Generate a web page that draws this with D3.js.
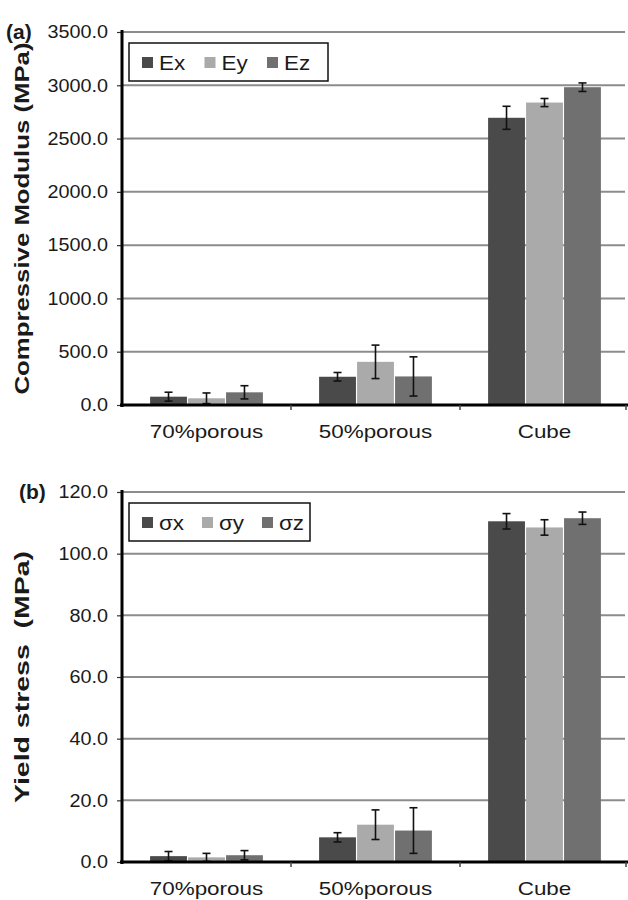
<!DOCTYPE html>
<html>
<head>
<meta charset="utf-8">
<script src="https://cdn.jsdelivr.net/npm/d3@7"></script>
<style>
  body { margin: 0; background: #fff; }
  text { font-family: "Liberation Sans", Arial, sans-serif; fill: #1a1a1a; }
</style>
</head>
<body>
<script>
const categories = ["70%porous", "50%porous", "Cube"];

// (a) compressive modulus, MPa
const modSeries = ["Ex", "Ey", "Ez"];
const exValues = [78, 265, 2695];
const exErr = [42, 40, 108];
const eyValues = [63, 405, 2838];
const eyErr = [50, 157, 38];
const ezValues = [119, 268, 2982];
const ezErr = [62, 184, 40];
const modTicks = [0, 500, 1000, 1500, 2000, 2500, 3000, 3500];

// (b) yield stress, MPa
const sigSeries = ["σx", "σy", "σz"];
const sxValues = [1.9, 8.0, 110.5];
const sxErr = [1.5, 1.5, 2.5];
const syValues = [1.5, 12.1, 108.5];
const syErr = [1.3, 4.8, 2.5];
const szValues = [2.2, 10.2, 111.5];
const szErr = [1.5, 7.4, 2.0];
const sigTicks = [0, 20, 40, 60, 80, 100, 120];

const colors = ["#4a4a4a", "#aaaaaa", "#707070"];

const svg = d3.select("body").append("svg")
  .attr("width", 628)
  .attr("height", 900);

// stretch text a little wider, the source figure is scaled non-uniformly
const stretch = (sel, k) => sel.each(function () {
  const w = this.getComputedTextLength();
  d3.select(this).attr("textLength", w * k).attr("lengthAdjust", "spacingAndGlyphs");
});

function drawPanel(opt) {
  const left = 122, right = 628;
  const g = svg.append("g");

  const y = d3.scaleLinear().domain([0, opt.max]).range([opt.bottom, opt.top]);
  const x0 = d3.scaleBand().domain(categories).range([left, right + 1]);
  const x1 = d3.scaleBand().domain(opt.series).range([0, x0.bandwidth()])
    .paddingOuter(0.74).paddingInner(0.03);

  // grid
  g.append("g").selectAll("line")
    .data(opt.ticks.filter(d => d > 0))
    .join("line")
      .attr("x1", left).attr("x2", right - 3)
      .attr("y1", d => y(d)).attr("y2", d => y(d))
      .attr("stroke", "#8c8c8c").attr("stroke-width", 2);

  // y axis
  const yAxis = g.append("g")
    .attr("transform", `translate(${left},0)`)
    .call(d3.axisLeft(y).tickValues(opt.ticks).tickFormat(d3.format(".1f")).tickSize(5).tickPadding(9));
  yAxis.select(".domain").remove();
  yAxis.selectAll(".tick line").attr("stroke", "#333").attr("stroke-width", 1.2);
  yAxis.selectAll("text").attr("font-size", 18).attr("fill", "#1a1a1a")
    .attr("font-family", '"Liberation Sans", Arial, sans-serif');
  stretch(yAxis.selectAll("text"), 1.1);

  // bars
  const groups = g.append("g").selectAll("g")
    .data(categories)
    .join("g")
      .attr("transform", d => `translate(${x0(d)},0)`);

  groups.selectAll("rect")
    .data((c, i) => opt.series.map((s, j) => ({ s, j, v: opt.values[j][i], e: opt.errs[j][i] })))
    .join("rect")
      .attr("x", d => x1(d.s))
      .attr("width", x1.bandwidth())
      .attr("y", d => y(d.v))
      .attr("height", d => opt.bottom - y(d.v))
      .attr("fill", d => colors[d.j]);

  // error bars
  const eb = groups.selectAll("g.err")
    .data((c, i) => opt.series.map((s, j) => ({ s, j, v: opt.values[j][i], e: opt.errs[j][i] })))
    .join("g")
      .attr("class", "err")
      .attr("transform", d => `translate(${x1(d.s) + x1.bandwidth() / 2},0)`)
      .attr("stroke", "#111").attr("stroke-width", 1.6);
  eb.append("line").attr("y1", d => y(d.v + d.e)).attr("y2", d => y(Math.max(0, d.v - d.e)));
  eb.append("line").attr("x1", -4).attr("x2", 4).attr("y1", d => y(d.v + d.e)).attr("y2", d => y(d.v + d.e));
  eb.append("line").attr("x1", -4).attr("x2", 4)
    .attr("y1", d => y(Math.max(0, d.v - d.e))).attr("y2", d => y(Math.max(0, d.v - d.e)));

  // axes lines
  g.append("line")
    .attr("x1", left).attr("x2", left)
    .attr("y1", opt.top - 2).attr("y2", opt.bottom + 2)
    .attr("stroke", "#000").attr("stroke-width", 3);
  g.append("line")
    .attr("x1", left - 2).attr("x2", right)
    .attr("y1", opt.bottom).attr("y2", opt.bottom)
    .attr("stroke", "#000").attr("stroke-width", 3);

  // category ticks and labels
  g.append("g").selectAll("line")
    .data(categories.slice(1).concat(["end"]))
    .join("line")
      .attr("x1", d => d === "end" ? right - 2 : x0(d))
      .attr("x2", d => d === "end" ? right - 2 : x0(d))
      .attr("y1", opt.bottom).attr("y2", opt.bottom + 5)
      .attr("stroke", "#444").attr("stroke-width", 1.5);

  const cat = g.append("g").selectAll("text")
    .data(categories)
    .join("text")
      .attr("x", d => x0(d) + x0.bandwidth() / 2)
      .attr("y", opt.bottom + 33)
      .attr("text-anchor", "middle")
      .attr("font-size", 19)
      .text(d => d);
  stretch(cat, 1.18);

  // panel letter
  g.append("text")
    .attr("x", opt.letterX).attr("y", opt.top + 7)
    .attr("font-size", 21).attr("font-weight", "bold")
    .text(opt.letter);

  // y title
  g.append("text")
    .attr("transform", `translate(29,${(opt.top + opt.bottom) / 2}) rotate(-90)`)
    .attr("text-anchor", "middle")
    .attr("font-size", 21).attr("font-weight", "bold")
    .attr("textLength", opt.titleLen).attr("lengthAdjust", "spacingAndGlyphs")
    .style("white-space", "pre")
    .text(opt.title);

  // legend
  const lg = g.append("g").attr("transform", `translate(129,${opt.top + 11})`);
  lg.append("rect")
    .attr("width", opt.legendW).attr("height", 38)
    .attr("fill", "#fff").attr("stroke", "#111").attr("stroke-width", 1.5);
  const item = lg.selectAll("g")
    .data(opt.series)
    .join("g")
      .attr("transform", (d, i) => `translate(${13 + i * opt.legendStep},0)`);
  item.append("rect")
    .attr("y", 14).attr("width", 11).attr("height", 11)
    .attr("fill", (d, i) => colors[i]);
  const lt = item.append("text")
    .attr("x", 17).attr("y", 27)
    .attr("font-size", 20)
    .text(d => d);
  stretch(lt, 1.12);
}

drawPanel({
  top: 32, bottom: 405, max: 3500, ticks: modTicks,
  series: modSeries,
  values: [exValues, eyValues, ezValues],
  errs: [exErr, eyErr, ezErr],
  letter: "(a)", letterX: 6,
  title: "Compressive Modulus (MPa)", titleLen: 352,
  legendW: 199, legendStep: 62.5
});

drawPanel({
  top: 492, bottom: 862, max: 120, ticks: sigTicks,
  series: sigSeries,
  values: [sxValues, syValues, szValues],
  errs: [sxErr, syErr, szErr],
  letter: "(b)", letterX: 19,
  title: "Yield stress  (MPa)", titleLen: 252,
  legendW: 181, legendStep: 60
});
</script>
</body>
</html>
